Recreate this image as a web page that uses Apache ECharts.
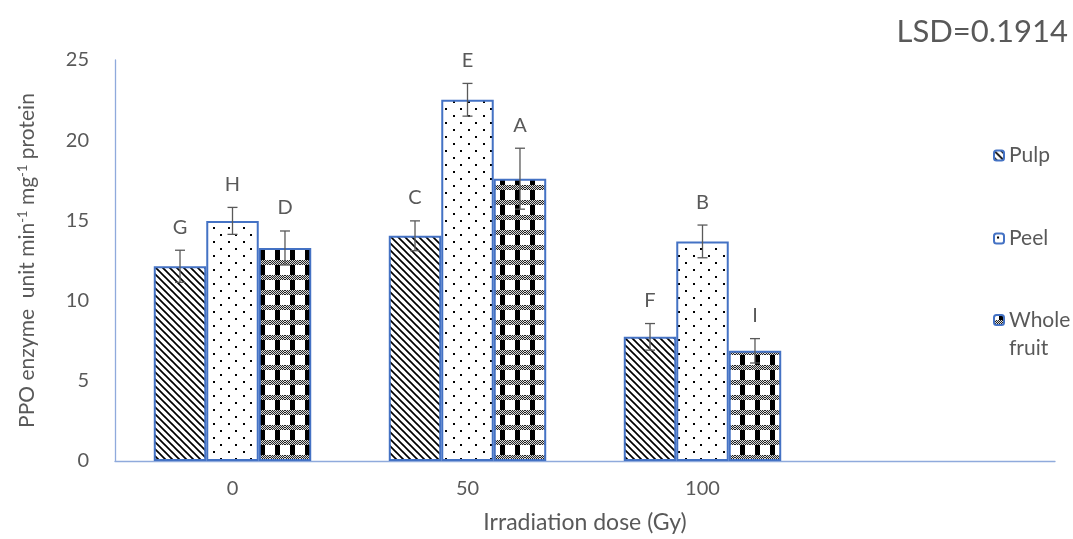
<!DOCTYPE html>
<html><head><meta charset="utf-8">
<script src="https://cdn.jsdelivr.net/npm/echarts@6/dist/echarts.min.js"></script>
<style>html,body{margin:0;padding:0;background:#fff}#c{width:1073px;height:539px}</style>
</head><body><div id="c"></div>
<script>
// ---- data ----
const categories = ['0', '50', '100', ''];
const seriesNames = ['Pulp', 'Peel', 'Whole fruit'];
const pulp = [12.14, 14.04, 7.74];
const peel = [14.97, 22.52, 13.69];
const whole = [13.28, 17.60, 6.87];
const pulpErr = [1.0, 0.93, 0.83];
const peelErr = [0.84, 1.02, 1.02];
const wholeErr = [1.06, 1.9, 0.76];
const pulpLetters = ['G', 'C', 'F'];
const peelLetters = ['H', 'E', 'B'];
const wholeLetters = ['D', 'A', 'I'];
const yMin = 0, yMax = 25, yStep = 5;
const lsdText = 'LSD=0.1914';
const xTitle = 'Irradiation dose (Gy)';

// ---- styles ----
const FONT = 'Lato';
const TXT = '#595959';
const BORDER = '#4472C4';
const AXIS = '#8FAADC';
const GAP = 0.33;

function tile(w, h, draw) {
  const c = document.createElement('canvas');
  c.width = w; c.height = h;
  const g = c.getContext('2d');
  g.fillStyle = '#fff'; g.fillRect(0, 0, w, h);
  draw(g);
  return { image: c, repeat: 'repeat' };
}
const pulpFill = tile(7, 7, g => {
  g.strokeStyle = '#000'; g.lineWidth = 1.7;
  for (let k = -1; k <= 1; k++) { g.beginPath(); g.moveTo(k * 7 - 1, -1); g.lineTo(k * 7 + 8, 8); g.stroke(); }
});
const peelFill = tile(15, 14, g => {
  g.fillStyle = '#000';
  g.fillRect(3, 3, 2, 2);
  g.fillRect(10, 10, 2, 2);
});
const wholeFill = tile(15, 15, g => {
  g.fillStyle = '#000';
  g.fillRect(5, 0, 5, 15);
  for (let y = 0; y < 5; y++) for (let x = 0; x < 15; x++) {
    g.fillStyle = ((x + y) % 2 === 0) ? '#222' : '#ddd';
    g.fillRect(x, y + 5, 1, 1);
  }
});
const fills = [pulpFill, peelFill, wholeFill];
const values = [pulp, peel, whole];
const errs = [pulpErr, peelErr, wholeErr];
const letters = [pulpLetters, peelLetters, wholeLetters];

const errData = [], errLetters = [];
values.forEach((arr, si) => arr.forEach((v, ci) => {
  errData.push([ci, si, v, errs[si][ci]]);
  errLetters.push(letters[si][ci]);
}));

const barSeries = seriesNames.map((name, si) => ({
  name, type: 'bar', data: values[si],
  barGap: '0%', barCategoryGap: (GAP * 100) + '%',
  itemStyle: { color: fills[si], borderColor: BORDER, borderWidth: 2 },
  emphasis: { disabled: true }
}));

const errSeries = {
  type: 'custom', data: errData, z: 10, silent: true,
  encode: { x: 0, y: 2 },
  renderItem(params, api) {
    const ci = api.value(0), si = api.value(1), v = api.value(2), e = api.value(3);
    const band = api.size([1, 0])[0];
    const group = band * (1 - GAP);
    const bw = group / 3;
    const cx = api.coord([ci, v])[0] - group / 2 + bw * (si + 0.5);
    const yHi = api.coord([ci, v + e])[1];
    const yLo = api.coord([ci, v - e])[1];
    const cap = 5;
    const st = { stroke: TXT, lineWidth: 1.3 };
    return { type: 'group', children: [
      { type: 'line', shape: { x1: cx, y1: yHi, x2: cx, y2: yLo }, style: st },
      { type: 'line', shape: { x1: cx - cap, y1: yHi, x2: cx + cap, y2: yHi }, style: st },
      { type: 'line', shape: { x1: cx - cap, y1: yLo, x2: cx + cap, y2: yLo }, style: st },
      { type: 'text', style: { text: errLetters[params.dataIndex], x: cx, y: yHi - 13,
        align: 'center', verticalAlign: 'bottom', fill: TXT, font: '20px ' + FONT } }
    ]};
  }
};

const legendText = { color: TXT, fontSize: 21, fontFamily: FONT };
const chart = echarts.init(document.getElementById('c'));
chart.setOption({
  animation: false,
  textStyle: { fontFamily: FONT },
  title: { text: lsdText, right: 0, top: 11, textStyle: { color: TXT, fontSize: 31, fontWeight: 'normal', fontFamily: FONT } },
  grid: { left: 115, right: 18, top: 60, bottom: 77 },
  legend: [
    { data: ['Pulp'], orient: 'vertical', left: 988, top: 140, itemWidth: 10, itemHeight: 10, itemGap: 10, textStyle: legendText, selectedMode: false },
    { data: ['Peel'], orient: 'vertical', left: 988, top: 223, itemWidth: 10, itemHeight: 10, itemGap: 10, textStyle: legendText, selectedMode: false },
    { data: ['Whole fruit'], orient: 'vertical', left: 988, top: 273, itemWidth: 10, itemHeight: 10, itemGap: 10,
      textStyle: Object.assign({}, legendText, { lineHeight: 28 }), selectedMode: false,
      formatter: n => ' \nWhole\nfruit' }
  ],
  xAxis: {
    type: 'category', data: categories,
    axisLine: { lineStyle: { color: AXIS, width: 1.3 } },
    axisTick: { show: false },
    axisLabel: { color: TXT, fontSize: 20, margin: 18, fontFamily: FONT },
    name: xTitle, nameLocation: 'middle', nameGap: 50,
    nameTextStyle: { color: TXT, fontSize: 23, fontFamily: FONT }
  },
  yAxis: {
    type: 'value', min: yMin, max: yMax, interval: yStep,
    axisLine: { show: true, lineStyle: { color: AXIS, width: 1.3 } },
    axisTick: { show: false },
    splitLine: { show: false },
    axisLabel: { color: TXT, fontSize: 20, margin: 26, fontFamily: FONT },
    name: 'PPO enzyme  unit min{s|-1} mg{s|-1} protein', nameLocation: 'middle', nameGap: 76,
    nameTextStyle: { color: TXT, fontSize: 21, fontFamily: FONT,
      rich: { s: { fontSize: 13, color: TXT, fontFamily: FONT, verticalAlign: 'top', padding: [0, 0, 10, 0] } } }
  },
  series: [...barSeries, errSeries]
});
</script>
</body></html>
